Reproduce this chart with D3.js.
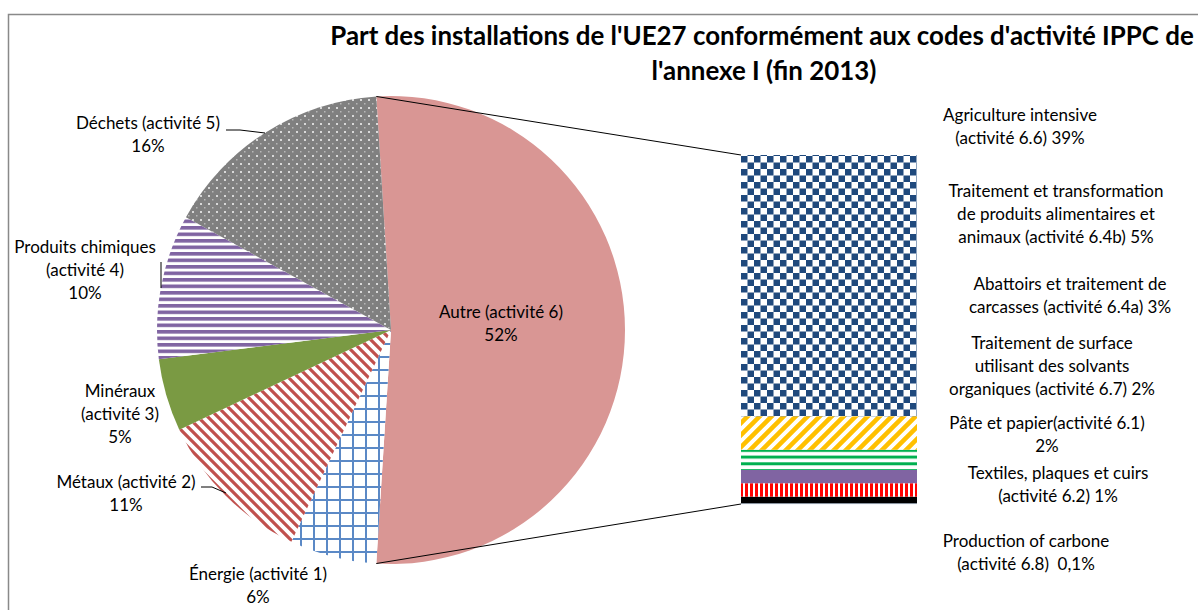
<!DOCTYPE html>
<html><head><meta charset="utf-8">
<script src="https://cdn.jsdelivr.net/npm/d3@7"></script>
<style>
html,body{margin:0;padding:0;background:#fff;overflow:hidden;}
svg{display:block;}
text{font-family:Lato,"Open Sans",sans-serif;fill:#000;white-space:pre;}
</style></head>
<body>
<svg id="chart" width="1198" height="610"></svg>
<script>
// ---- data ----
const titleLines = ["Part des installations de l'UE27 conformément aux codes d'activité IPPC de", "l'annexe I (fin 2013)"];
const pieCategories = ["Autre (activité 6)", "Énergie (activité 1)", "Métaux (activité 2)", "Minéraux (activité 3)", "Produits chimiques (activité 4)", "Déchets (activité 5)"];
const pieValues = [52, 6, 11, 5, 10, 16];
const pieLabelLines = [["Autre (activité 6)", "52%"], ["Énergie (activité 1)", "6%"], ["Métaux (activité 2)", "11%"], ["Minéraux", "(activité 3)", "5%"], ["Produits chimiques", "(activité 4)", "10%"], ["Déchets (activité 5)", "16%"]];
const barCategories = ["Agriculture intensive", "Traitement et transformation", "Abattoirs", "Traitement de surface", "Pâte et papier", "Textiles", "Production of carbone"];
const barValues = [39, 5, 3, 2, 2, 1, 0.1];
const barLabelLines = [
  ["Agriculture intensive", "(activité 6.6) 39%"],
  ["Traitement et transformation", "de produits alimentaires et", "animaux (activité 6.4b) 5%"],
  ["Abattoirs et traitement de", "carcasses (activité 6.4a) 3%"],
  ["Traitement de surface", "utilisant des solvants", "organiques (activité 6.7) 2%"],
  ["Pâte et papier(activité 6.1)", "2%"],
  ["Textiles, plaques et cuirs", "(activité 6.2) 1%"],
  ["Production of carbone", "(activité 6.8)  0,1%"]
];

// ---- layout ----
const svg = d3.select("#chart");
const cx = 391, cy = 330, R = 234;
const barX = 741, barW = 176, barTop = 155, barBottom = 504;

// border
svg.append("path").attr("d", "M8.5,640 L8.5,14.5 L1300,14.5")
  .attr("fill", "none").attr("stroke", "#898989").attr("stroke-width", 1.5);

// ---- patterns ----
const defs = svg.append("defs");
function pat(id, w, h, bg, draw) {
  const p = defs.append("pattern").attr("id", id).attr("patternUnits", "userSpaceOnUse")
    .attr("width", w).attr("height", h);
  if (bg) p.append("rect").attr("width", w).attr("height", h).attr("fill", bg);
  draw(p);
}
pat("pEnergie", 13, 13, "#fff", p => {
  p.append("rect").attr("x", 0).attr("y", 0).attr("width", 2).attr("height", 13).attr("fill", "#5b89c6");
  p.append("rect").attr("x", 0).attr("y", 0).attr("width", 13).attr("height", 2).attr("fill", "#5b89c6");
});
pat("pMetaux", 10, 10, "#fff", p => {
  p.append("path").attr("d", "M-2,-2 L12,12 M-7,3 L3,13 M3,-7 L13,3").attr("stroke", "#c0504d").attr("stroke-width", 3.2);
});
pat("pChim", 8, 6.5, "#fff", p => {
  p.append("rect").attr("x", 0).attr("y", 0).attr("width", 8).attr("height", 3.6).attr("fill", "#8064a2");
});
pat("pDechets", 8, 8, "#808080", p => {
  p.append("rect").attr("x", 1).attr("y", 1).attr("width", 2).attr("height", 2).attr("fill", "#d9d9d9");
  p.append("rect").attr("x", 5).attr("y", 5).attr("width", 1.5).attr("height", 1.5).attr("fill", "#b8b8b8");
});
pat("pAgri", 13, 13, "#fff", p => {
  p.append("rect").attr("x", 0).attr("y", 0).attr("width", 6.5).attr("height", 6.5).attr("fill", "#1f497d");
  p.append("rect").attr("x", 6.5).attr("y", 6.5).attr("width", 6.5).attr("height", 6.5).attr("fill", "#1f497d");
});
pat("pYellow", 12, 12, "#fff", p => {
  p.append("path").attr("d", "M-3,15 L15,-3 M-9,9 L9,-9 M3,21 L21,3").attr("stroke", "#ffc000").attr("stroke-width", 4.5);
});
pat("pGreen", 10, 6.7, "#fff", p => {
  p.append("rect").attr("x", 0).attr("y", 0).attr("width", 10).attr("height", 3).attr("fill", "#00b050");
});
pat("pRed", 5, 10, "#fff", p => {
  p.append("rect").attr("x", 0).attr("y", 0).attr("width", 3).attr("height", 10).attr("fill", "#ff0000");
});

const pieFills = ["#d99694", "url(#pEnergie)", "url(#pMetaux)", "#7a9a43", "url(#pChim)", "url(#pDechets)"];
const barFills = ["url(#pAgri)", "url(#pYellow)", "url(#pGreen)", "#8064a2", "url(#pRed)", "#000000", "#b9cde5"];

// ---- pie ----
const total = d3.sum(pieValues);
const a0 = Math.PI / 2 - (pieValues[0] / total) * Math.PI;
const pie = d3.pie().sort(null).startAngle(a0).endAngle(a0 + 2 * Math.PI);
const arcs = pie(pieValues);
const arcGen = d3.arc().innerRadius(0).outerRadius(R);
const g = svg.append("g").attr("transform", `translate(${cx},${cy})`);
g.selectAll("path").data(arcs).join("path")
  .attr("d", arcGen).attr("fill", (d, i) => pieFills[i]).attr("stroke", "none");

// ---- bar ----
const barTotal = d3.sum(barValues);
const y = d3.scaleLinear().domain([0, barTotal]).range([barBottom, barTop]);
let cum = 0;
const stacked = barValues.map((v, i) => ({ v, i })).reverse().map(d => {
  const s = { i: d.i, y0: cum, y1: cum + d.v }; cum += d.v; return s;
});
svg.append("g").selectAll("rect").data(stacked).join("rect")
  .attr("x", barX).attr("width", barW)
  .attr("y", d => y(d.y1)).attr("height", d => Math.max(0.8, y(d.y0) - y(d.y1)))
  .attr("fill", d => barFills[d.i]);

// connectors
const startA = arcs[0].startAngle, endA = arcs[0].endAngle;
const pt = a => [cx + R * Math.sin(a), cy - R * Math.cos(a)];
const pTop = pt(startA), pBot = pt(endA);
svg.append("line").attr("x1", pTop[0]).attr("y1", pTop[1]).attr("x2", barX).attr("y2", y(barTotal))
  .attr("stroke", "#000").attr("stroke-width", 1);
svg.append("line").attr("x1", pBot[0]).attr("y1", pBot[1]).attr("x2", barX).attr("y2", y(0))
  .attr("stroke", "#000").attr("stroke-width", 1);

// ---- title ----
const titlePos = [[762, 45], [764, 80]];
svg.selectAll("text.title").data(titleLines).join("text").attr("class", "title")
  .attr("x", (d, i) => titlePos[i][0]).attr("y", (d, i) => titlePos[i][1])
  .attr("text-anchor", "middle").style("font-size", "25.9px").style("font-weight", "bold").text(d => d);

// ---- labels ----
const pieLabelPos = [[501, 318], [258, 580], [126, 488], [120, 397], [85, 253], [148, 129]];
const lh = 23;
function drawLabel(lines, pos) {
  const t = svg.append("text").attr("text-anchor", "middle").style("font-size", "17px");
  lines.forEach((l, k) => t.append("tspan").attr("x", pos[0]).attr("y", pos[1] + k * lh).text(l));
}
pieLabelLines.forEach((lines, i) => drawLabel(lines, pieLabelPos[i]));

const barLabelPos = [[1020, 121], [1056, 197], [1070, 290], [1052, 349], [1047, 429], [1058, 479], [1026, 547]];
barLabelLines.forEach((lines, i) => drawLabel(lines, barLabelPos[i]));

// leader lines
const leaders = [
  [[226, 130], [240, 130], [265, 133]],
  [[161, 262], [161, 288]],
  [[201, 487], [212, 487], [226, 493]]
];
svg.selectAll("path.leader").data(leaders).join("path").attr("class", "leader")
  .attr("d", d => d3.line()(d)).attr("fill", "none").attr("stroke", "#000").attr("stroke-width", 1);
</script>
</body></html>
